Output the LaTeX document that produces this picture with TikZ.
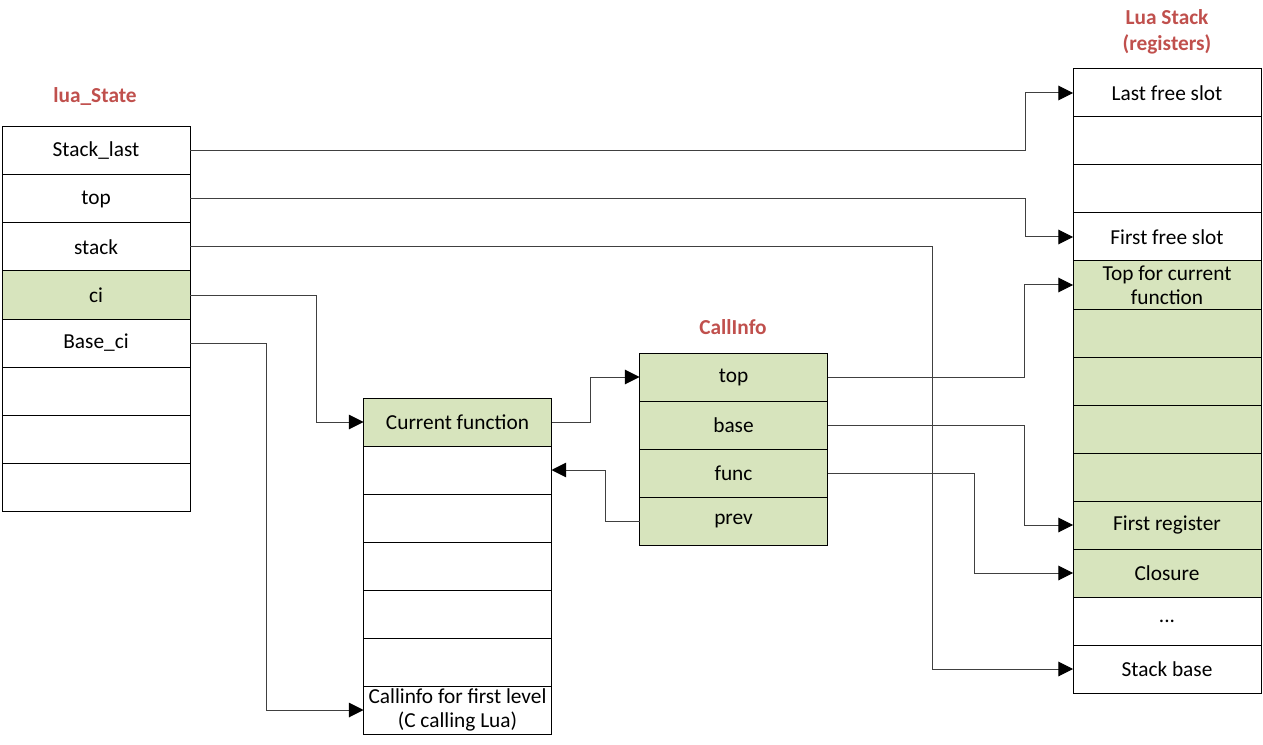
\documentclass[tikz,border=0pt]{standalone}
\usepackage{fontspec}
\setmainfont{Carlito}
\usetikzlibrary{arrows.meta}
\definecolor{cellgreen}{RGB}{215,228,189}
\definecolor{titlered}{RGB}{192,80,77}
\definecolor{wiregray}{RGB}{64,64,64}
\tikzset{cell/.style={draw=black, line width=0.75pt, minimum width=141pt, minimum height=36pt, inner sep=0pt, outer sep=0pt, align=center, font=\fontsize{16}{18}\selectfont}}
\tikzset{gcell/.style={cell, fill=cellgreen}}
\tikzset{title/.style={text=titlered, align=center, font=\bfseries\fontsize{16}{19.5}\selectfont}}
\tikzset{link/.style={draw=wiregray, line width=0.75pt, -{Triangle[length=11pt,width=11pt,color=black]}}}

\begin{document}
\begin{tikzpicture}[x=0.75pt,y=-0.75pt]
\useasboundingbox (0,0) rectangle (1263,745);
% lua_State
\node[title] (lstitle) at (95,97) {lua\_State};
\node[cell] (slast) at (96,151) {Stack\_last};
\node[cell] (stop) at (96,199) {top};
\node[cell] (sstack) at (96,247) {stack};
\node[gcell] (sci) at (96,295) {ci};
\node[cell] (sbase) at (96,343) {Base\_ci};
\node[cell] (se1) at (96,391) {};
\node[cell] (se2) at (96,439) {};
\node[cell] (se3) at (96,487) {};
% call info array
\node[gcell] (curfn) at (457.5,422) {Current function};
\node[cell] (ce1) at (457.5,470) {};
\node[cell] (ce2) at (457.5,518) {};
\node[cell] (ce3) at (457.5,566) {};
\node[cell] (ce4) at (457.5,614) {};
\node[cell] (ce5) at (457.5,662) {};
\node[cell] (cfirst) at (457.5,710) {Callinfo for first level\\(C calling Lua)};
% CallInfo
\node[title] (cititle) at (733,327) {CallInfo};
\node[gcell] (citop) at (733.5,377) {top};
\node[gcell] (cibase) at (733.5,425) {base};
\node[gcell] (cifunc) at (733.5,473) {func};
\node[gcell] (ciprev) at (733.5,521) {prev};
% Lua stack
\node[title] (lstack) at (1167,32) {Lua Stack\\(registers)};
\node[cell] (lastfree) at (1167,93) {Last free slot};
\node[cell] (le1) at (1167,141) {};
\node[cell] (le2) at (1167,189) {};
\node[cell] (firstfree) at (1167,237) {First free slot};
\node[gcell] (fntop) at (1167,285) {Top for current\\function};
\node[gcell] (lg1) at (1167,333) {};
\node[gcell] (lg2) at (1167,381) {};
\node[gcell] (lg3) at (1167,429) {};
\node[gcell] (lg4) at (1167,477) {};
\node[gcell] (firstreg) at (1167,525) {First register};
\node[gcell] (closure) at (1167,573) {Closure};
\node[cell] (ldots) at (1167,621) {...};
\node[cell] (stbase) at (1167,669) {Stack base};
% pointers
\draw[link] (slast.east) -- ++(835,0) |- (lastfree.west);
\draw[link] (stop.east) -- ++(835,0) |- (firstfree.west);
\draw[link] (sstack.east) -- ++(742,0) |- (stbase.west);
\draw[link] (sci.east) -- ++(126,0) |- (curfn.west);
\draw[link] (sbase.east) -- ++(76,0) |- (cfirst.west);
\draw[link] (curfn.east) -- ++(39,0) |- (citop.west);
\draw[link] (ciprev.west) -- ++(-34,0) |- (ce1.east);
\draw[link] (citop.east) -- ++(197,0) |- (fntop.west);
\draw[link] (cibase.east) -- ++(197,0) |- (firstreg.west);
\draw[link] (cifunc.east) -- ++(147,0) |- (closure.west);
\end{tikzpicture}
\end{document}
